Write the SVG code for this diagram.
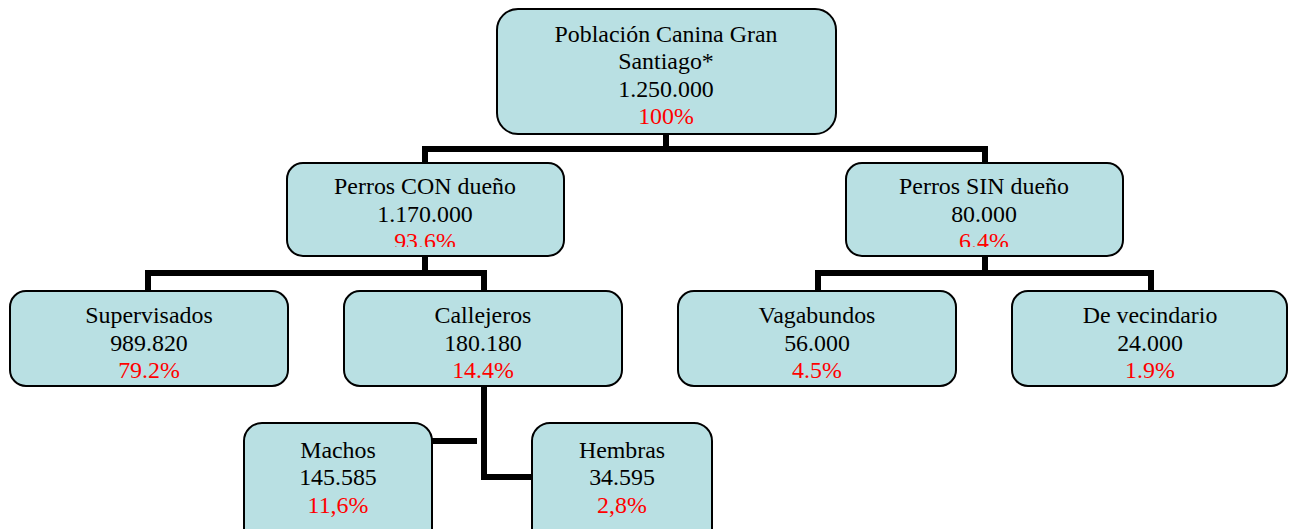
<svg xmlns="http://www.w3.org/2000/svg" width="1289" height="529" viewBox="0 0 1289 529">
<style>
.box{fill:#B9E0E3;stroke:#000;stroke-width:2}
.t{font-family:"Liberation Serif","Times New Roman",serif;font-size:23.9px;fill:#000;text-anchor:middle}
.r{fill:#FF0000}
.c{fill:none;stroke:#000;stroke-width:6;stroke-linejoin:miter;stroke-linecap:butt}
</style>
<defs>
<clipPath id="clipCon"><rect x="287" y="163" width="277" height="84"/></clipPath>
<clipPath id="clipSin"><rect x="846" y="163" width="277" height="84"/></clipPath>
</defs>
<rect width="1289" height="529" fill="#fff"/>
<g id="connectors">
<path class="c" d="M425 164 V149 H985 V164"/>
<path class="c" d="M666 134 V152"/>
<path class="c" d="M148 291 V273 H484 V291"/>
<path class="c" d="M425 256 V276"/>
<path class="c" d="M818 291 V273 H1151 V291"/>
<path class="c" d="M985 256 V276"/>
<path class="c" d="M484 386 V477 H533"/>
<path class="c" d="M431 441 H477"/>
</g>
<g id="n_root">
<rect class="box" x="497" y="9" width="339" height="125" rx="21"/>
<text class="t" x="666" y="42">Población Canina Gran</text>
<text class="t" x="666" y="69">Santiago*</text>
<text class="t" x="666" y="96.5">1.250.000</text>
<text class="t r" x="666" y="123.5">100%</text>
</g>
<g id="n_con">
<rect class="box" x="287" y="163" width="277" height="93" rx="16"/>
<text class="t" x="425" y="193.5">Perros CON dueño</text>
<text class="t" x="425" y="221.5">1.170.000</text>
<text class="t r" x="425" y="249" clip-path="url(#clipCon)">93.6%</text>
</g>
<g id="n_sin">
<rect class="box" x="846" y="163" width="277" height="93" rx="16"/>
<text class="t" x="984" y="193.5">Perros SIN dueño</text>
<text class="t" x="984" y="221.5">80.000</text>
<text class="t r" x="984" y="249" clip-path="url(#clipSin)">6.4%</text>
</g>
<g id="n_sup">
<rect class="box" x="10" y="291" width="278" height="95" rx="16"/>
<text class="t" x="149" y="323">Supervisados</text>
<text class="t" x="149" y="351">989.820</text>
<text class="t r" x="149" y="377.5">79.2%</text>
</g>
<g id="n_cal">
<rect class="box" x="344" y="291" width="278" height="95" rx="16"/>
<text class="t" x="483" y="323">Callejeros</text>
<text class="t" x="483" y="351">180.180</text>
<text class="t r" x="483" y="377.5">14.4%</text>
</g>
<g id="n_vag">
<rect class="box" x="678" y="291" width="278" height="95" rx="16"/>
<text class="t" x="817" y="323">Vagabundos</text>
<text class="t" x="817" y="351">56.000</text>
<text class="t r" x="817" y="377.5">4.5%</text>
</g>
<g id="n_vec">
<rect class="box" x="1012" y="291" width="275" height="95" rx="16"/>
<text class="t" x="1150" y="323">De vecindario</text>
<text class="t" x="1150" y="351">24.000</text>
<text class="t r" x="1150" y="377.5">1.9%</text>
</g>
<g id="n_mac">
<rect class="box" x="244" y="423" width="188" height="125" rx="18"/>
<text class="t" x="338" y="458">Machos</text>
<text class="t" x="338" y="485">145.585</text>
<text class="t r" x="338" y="512.5">11,6%</text>
</g>
<g id="n_hem">
<rect class="box" x="532" y="423" width="180" height="125" rx="18"/>
<text class="t" x="622" y="458">Hembras</text>
<text class="t" x="622" y="485">34.595</text>
<text class="t r" x="622" y="512.5">2,8%</text>
</g>
</svg>
